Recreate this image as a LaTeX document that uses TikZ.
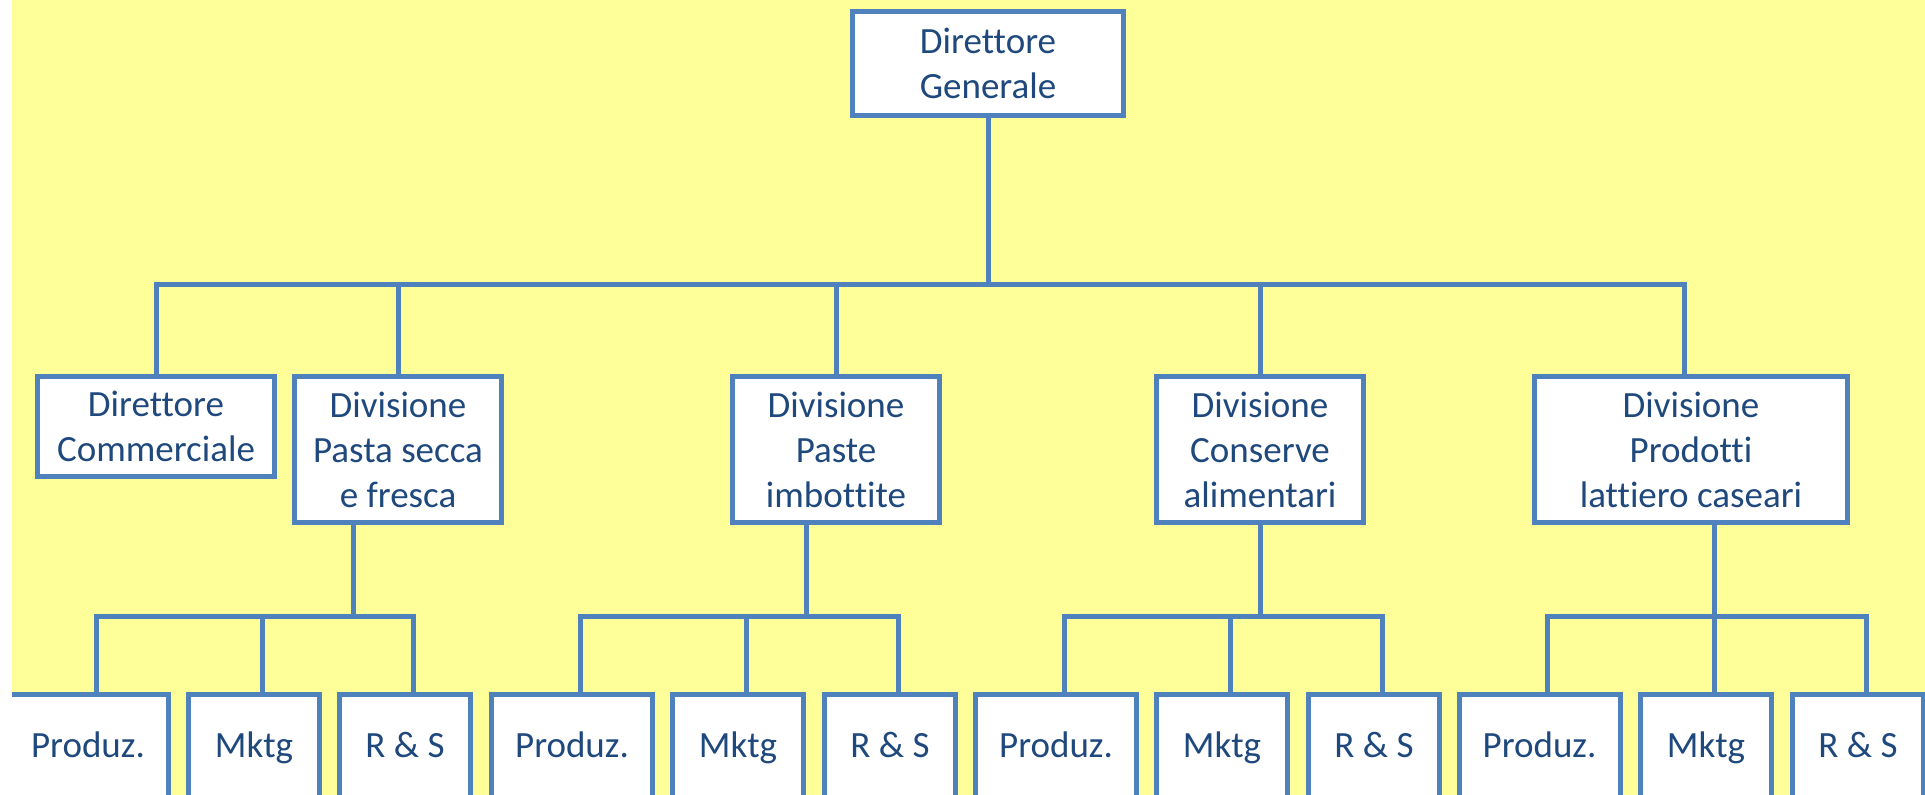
\documentclass[tikz,border=0pt]{standalone}
\usepackage{fontspec}
\setmainfont{Carlito}[Ligatures={NoCommon}]
\definecolor{slideyellow}{RGB}{255,255,153}
\definecolor{linkblue}{RGB}{79,129,189}
\definecolor{inkblue}{RGB}{31,73,125}
\tikzset{
  orgbox/.style={draw=linkblue, line width=5pt, fill=white, inner sep=0pt,
    align=center, text=inkblue, font=\fontsize{37}{45}\selectfont},
  leafbox/.style={orgbox, minimum height=104pt, text height=22pt, text depth=0pt},
  prodbox/.style={leafbox, minimum width=161pt},
  smallbox/.style={leafbox, minimum width=131pt},
  divbox/.style={orgbox, minimum width=207pt, minimum height=146pt},
  link/.style={draw=linkblue, line width=5pt, line join=miter}
}
\begin{document}
\begin{tikzpicture}[x=1pt, y=-1pt]
\useasboundingbox (0,0) rectangle (1925,795);
\fill[white] (0,0) rectangle (1925,795);
\begin{scope}
\clip (12,0) rectangle (1925,795);
\fill[slideyellow] (12,0) rectangle (1925,795);

% top level
\node[orgbox, minimum width=271pt, minimum height=104pt] (dg) at (988,63.5) {Direttore\\Generale};

% second level
\node[orgbox, minimum width=237pt, minimum height=100pt] (dc) at (156,426.5) {Direttore\\Commerciale};
\node[divbox] (pa) at (398,449.5) {Divisione\\Pasta secca\\e fresca};
\node[divbox] (im) at (836,449.5) {Divisione\\Paste\\imbottite};
\node[divbox] (co) at (1260,449.5) {Divisione\\Conserve\\alimentari};
\node[divbox, minimum width=313pt] (pl) at (1691,449.5) {Divisione\\Prodotti\\lattiero caseari};

% third level
\node[prodbox]  (a1) at (88,746)     {Produz.};
\node[smallbox] (a2) at (254,746)    {Mktg};
\node[smallbox] (a3) at (405,746)    {R \& S};
\node[prodbox]  (b1) at (572,746)    {Produz.};
\node[smallbox] (b2) at (738,746)    {Mktg};
\node[smallbox] (b3) at (890,746)    {R \& S};
\node[prodbox]  (c1) at (1056,746)   {Produz.};
\node[smallbox] (c2) at (1222,746)   {Mktg};
\node[smallbox] (c3) at (1374,746)   {R \& S};
\node[prodbox]  (d1) at (1539.5,746) {Produz.};
\node[smallbox] (d2) at (1706,746)   {Mktg};
\node[smallbox] (d3) at (1858,746)   {R \& S};

% bus points
\coordinate (busT) at (988,284);
\coordinate (busA) at (353,616);
\coordinate (busB) at (806,616);
\coordinate (busC) at (1260,616);
\coordinate (busD) at (1714,616);

% first-level connectors
\draw[link] (dg.south) -- (busT);
\draw[link] (dc.north) |- (busT) -| ([xshift=-7pt]pl.north);
\draw[link] (pa.north) -- (pa.north |- busT);
\draw[link] (im.north) -- (im.north |- busT);
\draw[link] (co.north) -- (co.north |- busT);

% division connectors
\foreach \d/\b/\x in {pa/busA/a, im/busB/b, co/busC/c, pl/busD/d}{
  \draw[link] (\d.south -| \b) -- (\b);
  \draw[link] ([xshift=8pt]\x1.north) |- (\b) -| ([xshift=8pt]\x3.north);
  \draw[link] ([xshift=8pt]\x2.north) -- ([xshift=8pt]\x2.north |- \b);
}
\end{scope}
\end{tikzpicture}
\end{document}
